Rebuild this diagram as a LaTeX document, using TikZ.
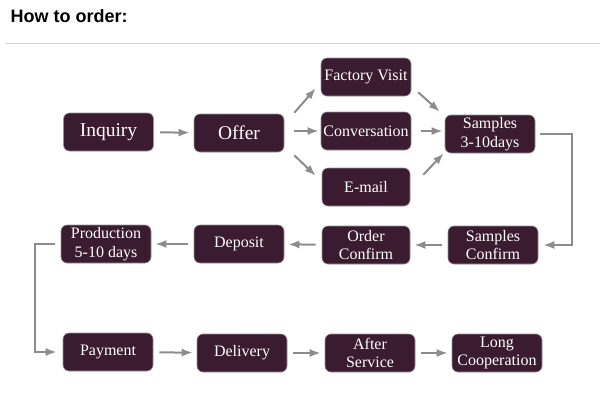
\documentclass[tikz,border=0pt]{standalone}
\usepackage{fontspec}
\setmainfont{Liberation Serif}
\newfontfamily\titlefont{Liberation Sans}
\usetikzlibrary{arrows.meta,calc}
\definecolor{boxfill}{HTML}{3A1B30}
\definecolor{boxline}{HTML}{9A9098}
\definecolor{arrgray}{HTML}{8C8C8C}
\tikzset{
  stepbox/.style={rectangle, rounded corners=6pt, fill=boxfill, draw=boxline, line width=0.6pt,
    text=white, align=center, minimum width=90pt, minimum height=38pt, inner sep=0pt,
    font=\fontsize{16}{18.5}\selectfont},
  bigbox/.style={stepbox, font=\fontsize{19.5}{21}\selectfont},
  arr/.style={draw=arrgray, line width=2pt, -{Latex[length=11pt,width=8pt]},
    shorten <=6pt, shorten >=4pt},
}
\begin{document}
\begin{tikzpicture}[x=1pt,y=-1pt]
\useasboundingbox (0,0) rectangle (601,404);
\fill[white] (0,0) rectangle (601,404);
\node[anchor=base west, font=\titlefont\bfseries\fontsize{18}{20}\selectfont] (title) at (7,22.5) {How to order:};
\coordinate (sepL) at (5,44);
\coordinate (sepR) at (600,44);
\draw[color=black!17, line width=1pt] (sepL) -- (sepR);

\node[bigbox] (inq) at (108.5,132) {Inquiry};
\node[bigbox] (off) at (239,133) {Offer};
\node[stepbox] (fv) at (366,77) {Factory Visit};
\node[stepbox] (conv) at (366,131) {Conversation};
\node[stepbox, minimum width=88pt] (email) at (366,187) {E-mail};
\node[stepbox] (s310) at (490,134) {Samples\\3-10days};
\node[stepbox] (sc) at (493,245) {Samples\\Confirm};
\node[stepbox, minimum width=88pt] (oc) at (366,245) {Order\\Confirm};
\node[stepbox] (dep) at (239,244) {Deposit};
\node[stepbox] (prod) at (106,244) {Production\\5-10 days};
\node[stepbox] (pay) at (108,352) {Payment};
\node[stepbox] (del) at (242,353) {Delivery};
\node[stepbox] (as) at (370,353) {After\\Service};
\node[stepbox] (lc) at (497,353) {Long\\Cooperation};

\draw[arr] (inq) -- (off);
\draw[arr, shorten <=0pt, shorten >=0pt] ($(off.north east)+(10,-1)$) -- ($(fv.south west)+(-5,-8)$);
\draw[arr, shorten <=10pt, shorten >=2pt] (off.east |- conv) -- (conv);
\draw[arr, shorten <=0pt, shorten >=0pt] ($(off.south east)+(10,3)$) -- ($(email.north west)+(-6,8)$);
\draw[arr, shorten <=0pt, shorten >=0pt] ($(fv.south east)+(7,-4)$) -- ($(s310.north west)+(-5,-3)$);
\draw[arr, shorten <=10pt, shorten >=2pt] (conv) -- (s310.west |- conv);
\draw[arr, shorten <=0pt, shorten >=0pt] ($(email.north east)+(13,7)$) -- ($(s310.south west)+(-1,0)$);
\draw[arr, shorten <=5pt, shorten >=5pt] (s310.east) -- ++(37,0) |- (sc.east);
\draw[arr] (sc) -- (oc);
\draw[arr] (oc) -- (dep);
\draw[arr] (dep) -- (prod);
\draw[arr, shorten <=6pt, shorten >=6pt] (prod.west) -- ++(-26,0) |- (pay.west);
\draw[arr] (pay) -- (del);
\draw[arr] (del) -- (as);
\draw[arr] (as) -- (lc);
\end{tikzpicture}
\end{document}
